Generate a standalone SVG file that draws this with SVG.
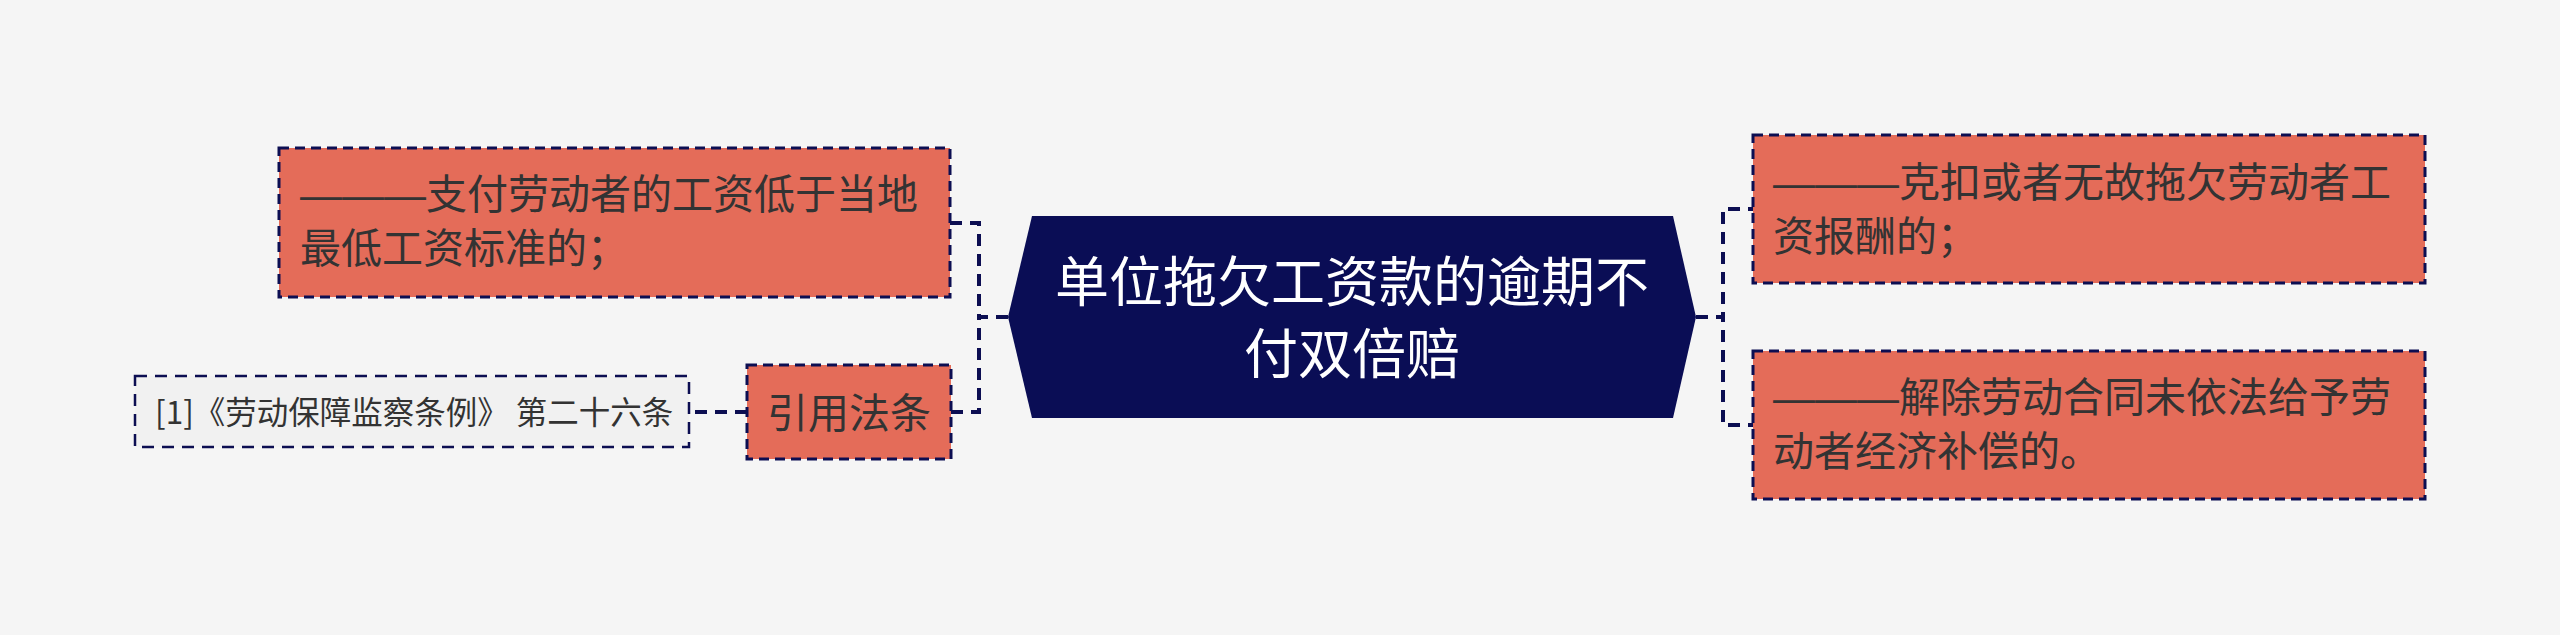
<svg xmlns="http://www.w3.org/2000/svg" width="2560" height="635" viewBox="0 0 2560 635">
<style>
.bg{fill:#f5f5f5}
.box{fill:#e46c59;stroke:#0c0e52;stroke-width:3;stroke-dasharray:10 6}
.cite{fill:#f1f1f1;stroke:#0c0e52;stroke-width:2.5;stroke-dasharray:12 8}
.conn{fill:none;stroke:#0c0e52;stroke-width:4;stroke-dasharray:12 8}
.t{font-family:"Noto Sans CJK SC","Noto Sans",sans-serif;font-size:41px;fill:#333333}
.d{font-family:"Liberation Sans",sans-serif;font-size:42px}
.ct{font-family:"Noto Sans CJK SC","Noto Sans",sans-serif;font-size:31.5px;fill:#333333}
.mt{font-family:"Noto Sans CJK SC","Noto Sans",sans-serif;font-size:54px;fill:#ffffff;text-anchor:middle}
</style>
<rect class="bg" x="0" y="0" width="2560" height="635"/>
<g id="connectors">
<path class="conn" d="M1008 317 H979 V223 H950"/>
<path class="conn" d="M1008 317 H979 V412 H951"/>
<path class="conn" d="M1696 317 H1723 V209 H1753"/>
<path class="conn" d="M1696 317 H1723 V425 H1753"/>
<path class="conn" d="M747 412 H689"/>
</g>
<g id="center">
<polygon points="1032,216 1673,216 1696,317 1673,418 1032,418 1008,317" fill="#0a0d55"/>
<text class="mt" x="1352" y="302">单位拖欠工资款的逾期不</text>
<text class="mt" x="1352" y="374">付双倍赔</text>
</g>
<g id="node-left-top">
<rect class="box" x="279" y="148" width="671" height="149"/>
<text class="t" x="300" y="209"><tspan class="d">———</tspan>支付劳动者的工资低于当地</text>
<text class="t" x="300" y="263">最低工资标准的；</text>
</g>
<g id="node-cite-law">
<rect class="box" x="747" y="365" width="204" height="94"/>
<text class="t" x="849" y="428" text-anchor="middle">引用法条</text>
</g>
<g id="node-citation">
<rect class="cite" x="135" y="376" width="554" height="71"/>
<text class="ct" x="155" y="424">[1]《劳动保障监察条例》 第二十六条</text>
</g>
<g id="node-right-top">
<rect class="box" x="1753" y="135" width="672" height="148"/>
<text class="t" x="1773" y="197"><tspan class="d">———</tspan>克扣或者无故拖欠劳动者工</text>
<text class="t" x="1773" y="251">资报酬的；</text>
</g>
<g id="node-right-bottom">
<rect class="box" x="1753" y="351" width="672" height="148"/>
<text class="t" x="1773" y="412"><tspan class="d">———</tspan>解除劳动合同未依法给予劳</text>
<text class="t" x="1773" y="466">动者经济补偿的。</text>
</g>
</svg>
